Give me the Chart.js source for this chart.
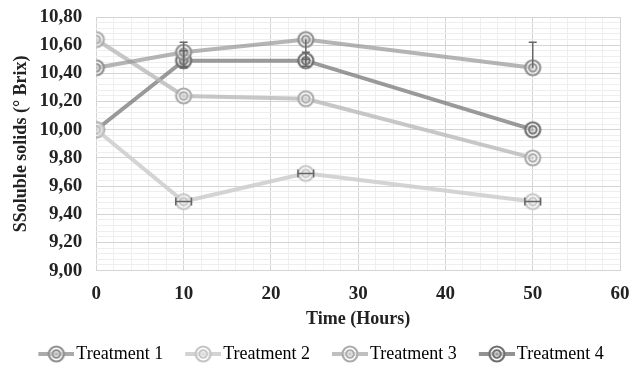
<!DOCTYPE html>
<html>
<head>
<meta charset="utf-8">
<script src="https://cdn.jsdelivr.net/npm/chart.js@4.4.0/dist/chart.umd.min.js"></script>
<style>
  html, body { margin: 0; padding: 0; background: #fff; }
  #wrap { width: 633px; height: 366px; }
</style>
</head>
<body>
<div id="wrap"><canvas id="chart" width="633" height="366"></canvas></div>
<script>
// hours of sampling
const hours = [0, 10, 24, 50];

const seriesNames = ['Treatment 1', 'Treatment 2', 'Treatment 3', 'Treatment 4'];

// soluble solids (° Brix)
const treatment1 = [10.44, 10.55, 10.64, 10.44];
const treatment2 = [10.00, 9.49, 9.69, 9.49];
const treatment3 = [10.64, 10.24, 10.22, 9.80];
const treatment4 = [10.00, 10.49, 10.49, 10.00];

// error bars (up / down in Brix, horizontal in hours)
const errUp1 = [0, 0.07, 0, 0.18];
const errDown1 = [0, 0.10, 0.14, 0];
const errUp4 = [0, 0.07, 0.06, 0];
const errDown4 = [0, 0.05, 0.04, 0];
const errX2 = [0, 0.9, 0.9, 0.9];

const xTicks = [0, 10, 20, 30, 40, 50, 60];
const yTicks = [9.0, 9.2, 9.4, 9.6, 9.8, 10.0, 10.2, 10.4, 10.6, 10.8];

const lineColors = ['rgba(150,150,150,0.7)', 'rgba(205,205,205,0.85)', 'rgba(185,185,185,0.8)', 'rgba(120,120,120,0.75)'];
const ringColors = ['#8e8e8e', '#c4c4c4', '#ababab', '#6e6e6e'];

// ring marker; for the legend the symbol (line + rings) sits at the right end
function ringMarker(color, w, symW) {
  const c = document.createElement('canvas');
  c.width = w; c.height = 20;
  const ctx = c.getContext('2d');
  const x0 = w - symW;
  const cx = x0 + symW / 2, cy = 10;
  if (symW > 20) {
    ctx.strokeStyle = color;
    ctx.globalAlpha = 0.75;
    ctx.lineWidth = 4;
    ctx.beginPath(); ctx.moveTo(x0, cy); ctx.lineTo(w, cy); ctx.stroke();
    ctx.globalAlpha = 1;
  }
  ctx.fillStyle = 'rgba(255,255,255,0.55)';
  ctx.beginPath(); ctx.arc(cx, cy, 8, 0, Math.PI * 2); ctx.fill();
  ctx.strokeStyle = color;
  ctx.lineWidth = 2.2;
  ctx.beginPath(); ctx.arc(cx, cy, 7.5, 0, Math.PI * 2); ctx.stroke();
  ctx.lineWidth = 2;
  ctx.beginPath(); ctx.arc(cx, cy, 3.8, 0, Math.PI * 2); ctx.stroke();
  ctx.fillStyle = color;
  ctx.globalAlpha = 0.5;
  ctx.beginPath(); ctx.arc(cx, cy, 1.5, 0, Math.PI * 2); ctx.fill();
  return c;
}

const markers = ringColors.map(c => ringMarker(c, 20, 20));
const legendMarkers = ringColors.map(c => ringMarker(c, 52, 36));

const allValues = [treatment1, treatment2, treatment3, treatment4];

function isMajor(v, step) {
  const r = v / step;
  return Math.abs(r - Math.round(r)) < 1e-6;
}

const errorBars = {
  id: 'errorBars',
  afterDatasetsDraw(chart) {
    const ctx = chart.ctx;
    const xs = chart.scales.x, ys = chart.scales.y;
    ctx.save();
    ctx.strokeStyle = '#666';
    ctx.lineWidth = 1.5;
    const vbar = (x, yv, up, down) => {
      const px = xs.getPixelForValue(x);
      const top = ys.getPixelForValue(yv + up);
      const bot = ys.getPixelForValue(yv - down);
      ctx.beginPath();
      ctx.moveTo(px, top); ctx.lineTo(px, bot);
      if (up > 0) { ctx.moveTo(px - 4, top); ctx.lineTo(px + 4, top); }
      if (down > 0) { ctx.moveTo(px - 4, bot); ctx.lineTo(px + 4, bot); }
      ctx.stroke();
    };
    hours.forEach((h, i) => {
      if (errUp1[i] || errDown1[i]) vbar(h, treatment1[i], errUp1[i], errDown1[i]);
      if (errUp4[i] || errDown4[i]) vbar(h, treatment4[i], errUp4[i], errDown4[i]);
      if (errX2[i]) {
        const py = ys.getPixelForValue(treatment2[i]);
        const l = xs.getPixelForValue(h - errX2[i]);
        const r = xs.getPixelForValue(h + errX2[i]);
        ctx.beginPath();
        ctx.moveTo(l, py); ctx.lineTo(r, py);
        ctx.moveTo(l, py - 4); ctx.lineTo(l, py + 4);
        ctx.moveTo(r, py - 4); ctx.lineTo(r, py + 4);
        ctx.stroke();
      }
    });
    ctx.restore();
  }
};

const font = 'Liberation Serif';

new Chart(document.getElementById('chart'), {
  type: 'line',
  data: {
    datasets: seriesNames.map((name, k) => ({
      label: name,
      data: hours.map((h, i) => ({ x: h, y: allValues[k][i] })),
      borderColor: lineColors[k],
      borderWidth: 4,
      pointStyle: markers[k],
      pointRadius: 9,
      pointHoverRadius: 9,
      fill: false,
      tension: 0
    }))
  },
  options: {
    responsive: false,
    animation: false,
    layout: { padding: { left: 0, right: 0, top: 0, bottom: -7 } },
    plugins: {
      tooltip: { enabled: false },
      legend: {
        position: 'bottom',
        labels: {
          usePointStyle: true,
          pointStyleWidth: 38,
          padding: 13,
          color: '#222',
          font: { family: font, size: 18 },
          generateLabels(chart) {
            return chart.data.datasets.map((ds, i) => ({
              text: ds.label,
              pointStyle: legendMarkers[i],
              fillStyle: ringColors[i],
              strokeStyle: ringColors[i],
              lineWidth: 0,
              datasetIndex: i,
              hidden: false
            }));
          }
        }
      }
    },
    scales: {
      x: {
        type: 'linear',
        min: 0, max: 60,
        afterBuildTicks(axis) {
          axis.ticks = [];
          for (let v = 0; v <= 60; v += 2) axis.ticks.push({ value: v });
        },
        afterFit(axis) {
          axis.paddingRight = 12;
        },
        ticks: {
          autoSkip: false,
          maxRotation: 0,
          padding: 12,
          color: '#222',
          font: { family: font, size: 19, weight: 'bold' },
          callback: v => (xTicks.includes(v) ? String(v) : '')
        },
        grid: {
          color: c => (isMajor(c.tick.value, 10) ? '#d4d4d4' : '#eeeeee'),
          lineWidth: 1,
          drawTicks: false
        },
        border: { display: false },
        title: {
          display: true,
          text: 'Time (Hours)',
          color: '#222',
          padding: { top: -9, bottom: 2 },
          font: { family: font, size: 18, weight: 'bold' }
        }
      },
      y: {
        min: 9.0, max: 10.8,
        afterBuildTicks(axis) {
          axis.ticks = [];
          for (let i = 0; i <= 45; i++) axis.ticks.push({ value: 9 + i * 0.04 });
        },
        afterFit(axis) {
          axis.paddingTop = 17;
        },
        ticks: {
          autoSkip: false,
          padding: 14,
          color: '#222',
          font: { family: font, size: 19, weight: 'bold' },
          callback: v => {
            const hit = yTicks.find(t => Math.abs(t - v) < 1e-6);
            return hit !== undefined ? hit.toFixed(2).replace('.', ',') : '';
          }
        },
        grid: {
          color: c => (isMajor(c.tick.value - 9, 0.2) ? '#d4d4d4' : '#eeeeee'),
          lineWidth: 1,
          drawTicks: false
        },
        border: { display: false },
        title: {
          display: true,
          text: 'SSoluble solids (° Brix)',
          color: '#222',
          padding: { top: 11, bottom: -7 },
          font: { family: font, size: 18, weight: 'bold' }
        }
      }
    }
  },
  plugins: [errorBars]
});
</script>
</body>
</html>
